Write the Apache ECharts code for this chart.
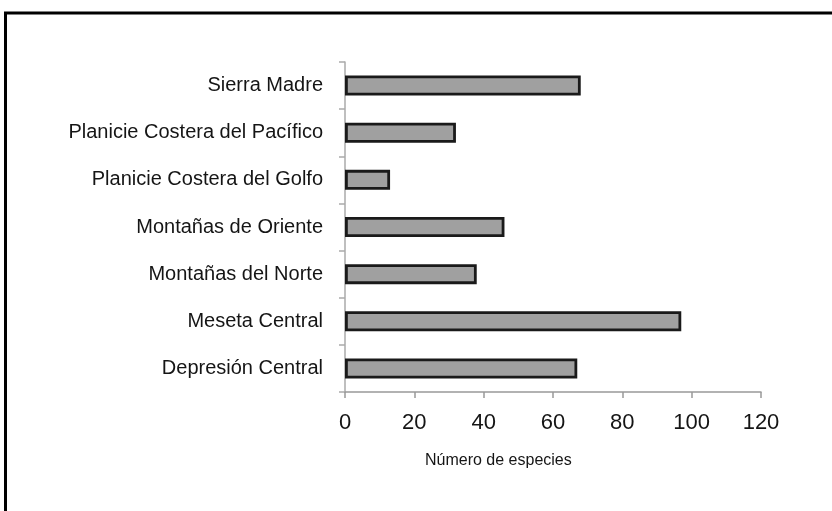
<!DOCTYPE html>
<html>
<head>
<meta charset="utf-8">
<script src="https://cdn.jsdelivr.net/npm/echarts@6/dist/echarts.min.js"></script>
<style>
  html, body { margin: 0; padding: 0; background: #fff; }
  #chart { width: 832px; height: 511px; }
</style>
</head>
<body>
<div id="chart"></div>
<script>
// regiones, de arriba hacia abajo
const regiones = [
  'Sierra Madre',
  'Planicie Costera del Pacífico',
  'Planicie Costera del Golfo',
  'Montañas de Oriente',
  'Montañas del Norte',
  'Meseta Central',
  'Depresión Central'
];
const especies = [68, 32, 13, 46, 38, 97, 67];
const xTicks = [0, 20, 40, 60, 80, 100, 120];

const chart = echarts.init(document.getElementById('chart'));

const textColor = '#151515';
const font = 'Liberation Sans, Arial, sans-serif';

chart.setOption({
  backgroundColor: '#fff',
  animation: false,
  grid: { left: 345, right: 71, top: 62, bottom: 119 },
  xAxis: {
    type: 'value',
    min: xTicks[0],
    max: xTicks[xTicks.length - 1],
    interval: 20,
    splitLine: { show: false },
    axisLine: { show: true, lineStyle: { color: '#999', width: 1.5 } },
    axisTick: { show: true, length: 6, lineStyle: { color: '#999', width: 1.5 } },
    axisLabel: {
      margin: 20,
      color: textColor,
      fontSize: 22,
      fontFamily: font
    }
  },
  yAxis: {
    type: 'category',
    data: regiones,
    inverse: true,
    axisLine: { show: true, lineStyle: { color: '#aaa', width: 1.5 } },
    axisTick: { show: true, length: 6, lineStyle: { color: '#aaa', width: 1.5 } },
    axisLabel: {
      margin: 22,
      color: textColor,
      fontSize: 20,
      fontFamily: font
    }
  },
  series: [{
    type: 'bar',
    data: especies,
    barWidth: 20,
    itemStyle: {
      color: '#a0a0a0',
      borderColor: '#1a1a1a',
      borderWidth: 2.8
    }
  }],
  graphic: [
    {
      type: 'rect',
      shape: { x: 5.5, y: 13, width: 900, height: 600 },
      style: { fill: 'none', stroke: '#000', lineWidth: 3 },
      silent: true
    },
    {
      type: 'text',
      left: 425,
      top: 453,
      style: {
        text: 'Número de especies',
        fill: textColor,
        fontSize: 16,
        fontFamily: font
      }
    }
  ]
});
</script>
</body>
</html>
